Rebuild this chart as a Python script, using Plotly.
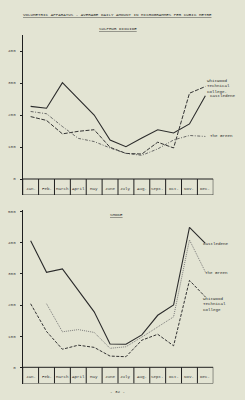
import plotly.graph_objects as go

# ---------------- data ----------------
months = ["Jan.", "Feb.", "March", "April", "May", "June", "July", "Aug.", "Sept.", "Oct.", "Nov.", "Dec."]

castledene_so2 = [227, 221, 301, 250, 200, 122, 101, 128, 154, 144, 172, 260]
whitwood_so2 = [195, 183, 141, 149, 154, 99, 80, 78, 115, 97, 268, 289]
green_so2 = [211, 204, 164, 127, 117, 97, 80, 74, 94, 122, 136, 133]

castledene_smoke = [406, 305, 316, 247, 178, 75, 74, 104, 167, 200, 449, 398]
green_smoke = [None, 204, 114, 121, 112, 61, 66, 97, 130, 162, 409, 306]
whitwood_smoke = [204, 115, 58, 71, 64, 36, 34, 87, 106, 69, 279, 226]

so2_ticks = [0, 100, 200, 300, 400]
smoke_ticks = [0, 100, 200, 300, 400, 500]

# ---------------- styling ----------------
W, H = 245, 400
BG = "#e3e4d3"
INK = "#2a2a2a"
FONT = "Liberation Mono"
FS = 4.2

def px(x):
    return x / W

def py(y):
    return 1 - y / H

xidx = list(range(len(months)))

fig = go.Figure()

def add_series(y, xa, ya, color, dash, width):
    fig.add_trace(go.Scatter(x=xidx, y=y, xaxis=xa, yaxis=ya, mode="lines",
                             line=dict(color=color, dash=dash, width=width),
                             connectgaps=False, showlegend=False, hoverinfo="skip"))

# top chart: sulphur dioxide
add_series(castledene_so2, "x", "y", "#2b2b2b", "solid", 1.1)
add_series(whitwood_so2, "x", "y", "#333333", "4px,1.5px", 1.0)
add_series(green_so2, "x", "y", "#5a5a5a", "3px,1.5px,1px,1.5px", 0.9)

# bottom chart: smoke
add_series(castledene_smoke, "x2", "y2", "#2b2b2b", "solid", 1.1)
add_series(green_smoke, "x2", "y2", "#707070", "1px,1px", 0.9)
add_series(whitwood_smoke, "x2", "y2", "#333333", "3px,1.5px", 1.0)

x_dom = [px(22.7), px(213.3)]
axis_common = dict(showgrid=False, zeroline=False, showline=False, showticklabels=False,
                   ticks="", range=[-0.5, 11.5], fixedrange=True)
yax_common = dict(showgrid=False, zeroline=False, showline=True, linecolor="#1e1e1e",
                  linewidth=1.4, ticks="outside", ticklen=2, tickwidth=0.8, tickcolor="#1e1e1e",
                  tickfont=dict(family=FONT, size=FS, color="#444"), ticklabelstandoff=3,
                  fixedrange=True)

fig.update_layout(
    width=W, height=H,
    margin=dict(l=0, r=0, t=0, b=0),
    paper_bgcolor=BG, plot_bgcolor=BG,
    xaxis=dict(domain=x_dom, anchor="y", **axis_common),
    yaxis=dict(domain=[py(195), py(35)], range=[-50, 450], tickvals=so2_ticks,
               anchor="x", **yax_common),
    xaxis2=dict(domain=x_dom, anchor="y2", **axis_common),
    yaxis2=dict(domain=[py(383.5), py(210)], range=[-52, 505], tickvals=smoke_ticks,
                anchor="x2", **yax_common),
)

shapes = []
annotations = []
for xa, ya, bottom in (("x", "y", -50), ("x2", "y2", -52)):
    # zero line and bottom of the month row
    for yy in (0, bottom):
        shapes.append(dict(type="line", xref=xa, yref=ya, x0=-0.5, x1=11.5, y0=yy, y1=yy,
                           line=dict(color="#1e1e1e", width=1.0 if yy == 0 else 0.8)))
    # month separators
    for k in range(len(months) + 1):
        shapes.append(dict(type="line", xref=xa, yref=ya, x0=k - 0.5, x1=k - 0.5,
                           y0=0, y1=bottom, line=dict(color="#1e1e1e", width=1.0)))
    for i, m in enumerate(months):
        annotations.append(dict(xref=xa, yref=ya, x=i, y=bottom * 0.6, text=m,
                                showarrow=False, font=dict(family=FONT, size=FS, color="#333")))

def text(x, y, t, size=FS, xanchor="center", yanchor="middle"):
    annotations.append(dict(xref="paper", yref="paper", x=px(x), y=py(y), text=t,
                            showarrow=False, xanchor=xanchor, yanchor=yanchor, align="left",
                            font=dict(family=FONT, size=size, color=INK)))

text(117, 15.5, "<u>VOLUMETRIC APPARATUS - AVERAGE DAILY AMOUNT IN MICROGRAMMES PER CUBIC METRE</u>")
text(118, 29, "<u>SULPHUR DIOXIDE</u>")
text(116, 215.5, "<u>SMOKE</u>")
text(117, 392, "- 32 -")

# series labels, top chart
text(205, 76.5, "Whitwood<br>Technical<br>College.", xanchor="left", yanchor="top")
text(208, 96, "Castledene", xanchor="left")
text(208, 136, "The Green", xanchor="left")
# series labels, smoke chart
text(201, 244.3, "Castledene", xanchor="left")
text(203, 272.7, "The Green", xanchor="left")
text(201, 295, "Whitwood<br>Technical<br>College", xanchor="left", yanchor="top")

fig.update_layout(shapes=shapes, annotations=annotations)
fig.write_html("out.html")
